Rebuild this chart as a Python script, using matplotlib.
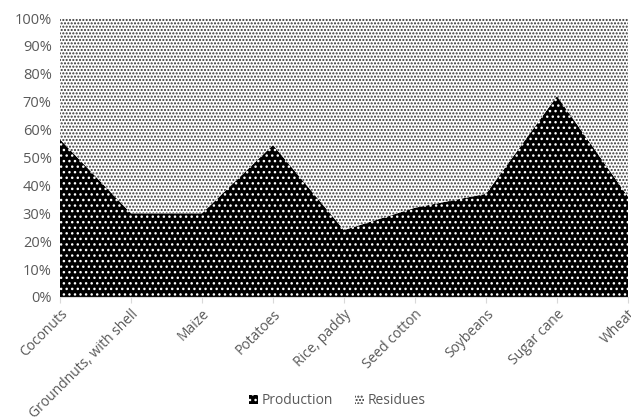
import matplotlib
matplotlib.use("Agg")
import matplotlib.pyplot as plt
from matplotlib.ticker import PercentFormatter

crops = ["Coconuts", "Groundnuts, with shell", "Maize", "Potatoes", "Rice, paddy",
         "Seed cotton", "Soybeans", "Sugar cane", "Wheat"]
production = [56.5, 30, 30, 54.5, 24, 32, 37, 72, 36]
residues = [100 - p for p in production]

plt.rcParams["font.family"] = ["Open Sans", "DejaVu Sans"]
plt.rcParams["hatch.linewidth"] = 1.0

fig = plt.figure(figsize=(6.31, 4.17), dpi=100)
ax = fig.add_axes([60 / 631, 1 - 297 / 417, 568 / 631, 279 / 417])

x = list(range(len(crops)))
prod_poly, res_poly = ax.stackplot(x, production, residues,
                                   colors=["black", "white"],
                                   labels=["Production", "Residues"])
prod_poly.set_hatch("...")
prod_poly.set_edgecolor("white")
prod_poly.set_linewidth(0)
res_poly.set_hatch(".....")
res_poly.set_edgecolor("#333333")
res_poly.set_linewidth(0)

ax.set_xlim(0, len(crops) - 1)
ax.set_ylim(0, 100)
ax.set_yticks(range(0, 101, 10))
ax.yaxis.set_major_formatter(PercentFormatter(decimals=0))
ax.set_xticks(x)
ax.set_xticklabels(crops, rotation=45, ha="right", rotation_mode="anchor")

for s in ["top", "right", "left"]:
    ax.spines[s].set_visible(False)
ax.spines["bottom"].set_color("#d9d9d9")
ax.tick_params(axis="y", length=0, labelcolor="#595959", labelsize=10.5, pad=6)
ax.tick_params(axis="x", length=4, color="#d9d9d9", labelcolor="#595959",
               labelsize=10, pad=3)

fig.legend(handles=[prod_poly, res_poly], labels=["Production", "Residues"],
           loc="center", bbox_to_anchor=(0.535, 1 - 401 / 417), ncol=2,
           frameon=False, fontsize=10, labelcolor="#595959",
           handlelength=0.6, handleheight=0.6, handletextpad=0.3,
           columnspacing=1.6)

fig.savefig("out.png", dpi=100)
